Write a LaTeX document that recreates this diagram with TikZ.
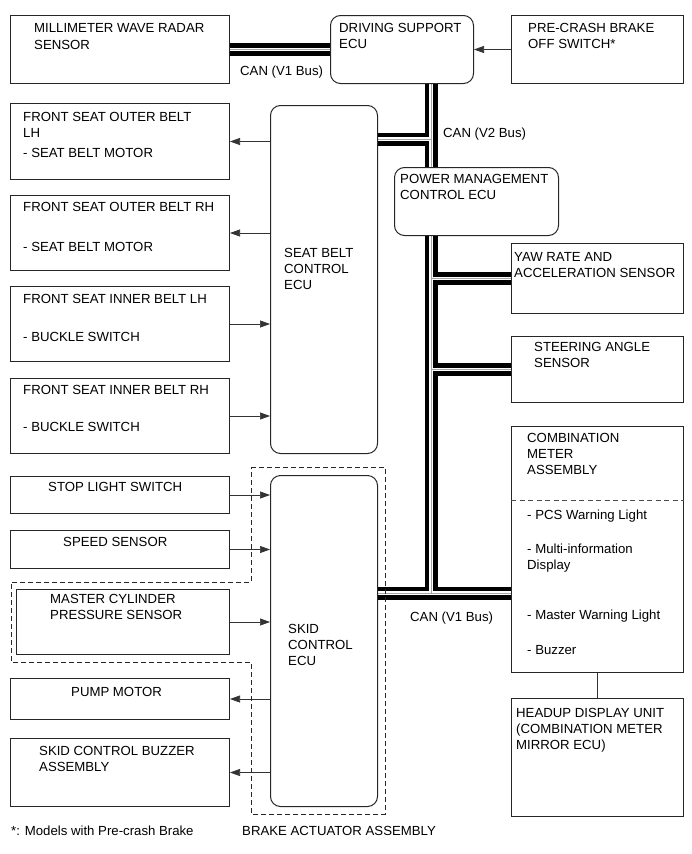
\documentclass[tikz,border=0pt]{standalone}
\usepackage{fontspec}
\setmainfont{Liberation Sans}
\usetikzlibrary{arrows.meta}
\pgfdeclarelayer{back}
\pgfsetlayers{back,main}
\newcommand{\dfont}{\fontsize{13.2}{16}\selectfont}

\begin{document}
\begin{tikzpicture}[x=1pt, y=-1pt,
    unitbox/.style={draw=black!85, line width=1pt, inner sep=0pt, anchor=north west},
    ecu/.style={unitbox, rounded corners=10pt},
    caption/.style={anchor=north west, align=left, inner sep=0pt, font=\dfont},
    buslabel/.style={anchor=west, inner sep=0pt, font=\dfont},
    sig/.style={draw=black!80, line width=0.7pt, -{Triangle[length=10pt,width=7pt]}},
    brakeframe/.style={draw=black!85, line width=0.9pt, dash pattern=on 5pt off 3pt},
  ]
    \useasboundingbox (0,0) rectangle (691,854);

    % Top row
    \node[unitbox, minimum width=219, minimum height=68,
          label={[caption, shift={(24pt,-8.5pt)}]north west:{MILLIMETER WAVE RADAR\\[1pt]SENSOR}}]
          (radar) at (10,15) {};
    \node[ecu, minimum width=143, minimum height=68,
          label={[caption, shift={(9pt,-8.5pt)}]north west:{DRIVING SUPPORT\\ECU}}]
          (dsecu) at (330,15) {};
    \node[unitbox, minimum width=172, minimum height=68,
          label={[caption, shift={(17pt,-8.5pt)}]north west:{PRE-CRASH BRAKE\\OFF SWITCH*}}]
          (precrash) at (511,15) {};

    % Seat belt side
    \node[unitbox, minimum width=219, minimum height=76,
          label={[caption, shift={(13pt,-9.5pt)}]north west:{FRONT SEAT OUTER BELT\\LH\\[4pt]- SEAT BELT MOTOR}}]
          (outerlh) at (10,103) {};
    \node[unitbox, minimum width=219, minimum height=75,
          label={[caption, shift={(13pt,-7.5pt)}]north west:{FRONT SEAT OUTER BELT RH\\[24pt]- SEAT BELT MOTOR}}]
          (outerrh) at (10,195) {};
    \node[unitbox, minimum width=219, minimum height=75,
          label={[caption, shift={(13pt,-8.5pt)}]north west:{FRONT SEAT INNER BELT LH\\[22pt]- BUCKLE SWITCH}}]
          (innerlh) at (10,286) {};
    \node[unitbox, minimum width=219, minimum height=75,
          label={[caption, shift={(13pt,-7.5pt)}]north west:{FRONT SEAT INNER BELT RH\\[21pt]- BUCKLE SWITCH}}]
          (innerrh) at (10,378) {};
    \node[ecu, minimum width=107, minimum height=348,
          label={[caption, shift={(14pt,-143.5pt)}]north west:{SEAT BELT\\CONTROL\\ECU}}]
          (sbecu) at (270,105) {};

    % Right column
    \node[ecu, minimum width=164, minimum height=68,
          label={[caption, shift={(6pt,-7.5pt)}]north west:{POWER MANAGEMENT\\CONTROL ECU}}]
          (pmecu) at (394,167) {};
    \node[unitbox, minimum width=172, minimum height=70,
          label={[caption, shift={(3pt,-9.5pt)}]north west:{YAW RATE AND\\ACCELERATION SENSOR}}]
          (yaw) at (511,243) {};
    \node[unitbox, minimum width=172, minimum height=66,
          label={[caption, shift={(23pt,-6.5pt)}]north west:{STEERING ANGLE\\SENSOR}}]
          (steer) at (511,336) {};
    \node[unitbox, minimum width=172, minimum height=246,
          label={[caption, shift={(16pt,-7.5pt)}]north west:{COMBINATION\\METER\\ASSEMBLY}},
          label={[caption, shift={(16pt,-83.5pt)}]north west:{- PCS Warning Light\\[18pt]- Multi-information\\Display\\[34pt]- Master Warning Light\\[19pt]- Buzzer}}]
          (meter) at (511,426) {};
    \node[unitbox, minimum width=172, minimum height=118,
          label={[caption, shift={(5pt,-10pt)}]north west:{HEADUP DISPLAY UNIT\\(COMBINATION METER\\MIRROR ECU)}}]
          (hud) at (511,698) {};

    % Brake side
    \node[unitbox, minimum width=219, minimum height=37,
          label={[caption, shift={(38pt,-6.3pt)}]north west:{STOP LIGHT SWITCH}}]
          (stoplight) at (10,476) {};
    \node[unitbox, minimum width=219, minimum height=38,
          label={[caption, shift={(53pt,-7.3pt)}]north west:{SPEED SENSOR}}]
          (speed) at (10,530) {};
    \node[unitbox, minimum width=213, minimum height=65,
          label={[caption, shift={(34pt,-5.3pt)}]north west:{MASTER CYLINDER\\PRESSURE SENSOR}}]
          (mastercyl) at (16,589) {};
    \node[unitbox, minimum width=219, minimum height=41,
          label={[caption, shift={(61pt,-9.3pt)}]north west:{PUMP MOTOR}}]
          (pump) at (10,678) {};
    \node[unitbox, minimum width=219, minimum height=68,
          label={[caption, shift={(29pt,-8.3pt)}]north west:{SKID CONTROL BUZZER\\ASSEMBLY}}]
          (buzzer) at (10,738) {};
    \node[ecu, minimum width=107, minimum height=331,
          label={[caption, shift={(18pt,-149.5pt)}]north west:{SKID\\CONTROL\\ECU}}]
          (skid) at (270,475) {};

    % CAN bus taps
    \coordinate (v2tap) at (431,139);
    \coordinate (v1tap) at (431,593);

    % CAN wiring: black, then the gap, then the core line
    \begin{pgfonlayer}{back}
    \foreach \w/\c in {13pt/black, 3.4pt/white, 0.7pt/black!35} {
        \draw[line width=\w, draw=\c]
            (radar.east) -- (dsecu.west)
            (dsecu.south -| v2tap) -- (pmecu.north -| v2tap)
            (sbecu.east |- v2tap) -- (v2tap)
            (pmecu.south -| v1tap) -- (v1tap)
            (v1tap |- yaw.west) -- (yaw.west)
            (v1tap |- steer.west) -- (steer.west)
            (skid.east |- v1tap) -- (meter.west |- v1tap);
    }
    \end{pgfonlayer}

    % Bus names
    \node[buslabel] (canvonetop) at (240,72) {CAN (V1 Bus)};
    \node[buslabel] (canvtwo) at (443,134) {CAN (V2 Bus)};
    \node[buslabel] (canvonelow) at (410,618) {CAN (V1 Bus)};

    % Signal lines
    \draw[sig] (precrash.west) -- (precrash.west -| dsecu.east);
    \draw[sig] (sbecu.west |- outerlh.east) -- (outerlh.east);
    \draw[sig] (sbecu.west |- outerrh.east) -- (outerrh.east);
    \draw[sig] (innerlh.east) -- (innerlh.east -| sbecu.west);
    \draw[sig] (innerrh.east) -- (innerrh.east -| sbecu.west);
    \draw[sig] (stoplight.east) -- (stoplight.east -| skid.west);
    \draw[sig] (speed.east) -- (speed.east -| skid.west);
    \draw[sig] (mastercyl.east) -- (mastercyl.east -| skid.west);
    \draw[sig] (skid.west |- pump.east) -- (pump.east);
    \draw[sig] (skid.west |- buzzer.east) -- (buzzer.east);
    \draw[draw=black!80, line width=0.7pt] (meter.south) -- (hud.north);

    % Meter divider
    \draw[draw=black!70, line width=0.8pt, dash pattern=on 5pt off 3.5pt]
        (meter.west |- 0,500) -- (meter.east |- 0,500);

    % Brake actuator outline
    \draw[brakeframe] (251,467) -- (385,467) -- (385,814) -- (251,814) -- (251,662)
        -- (11,662) -- (11,582) -- (251,582) -- cycle;

    % Notes
    \node[buslabel] (note) at (11,831) {*: Models with Pre-crash Brake};
    \node[buslabel] (brakename) at (242,831) {BRAKE ACTUATOR ASSEMBLY};
\end{tikzpicture}
\end{document}
